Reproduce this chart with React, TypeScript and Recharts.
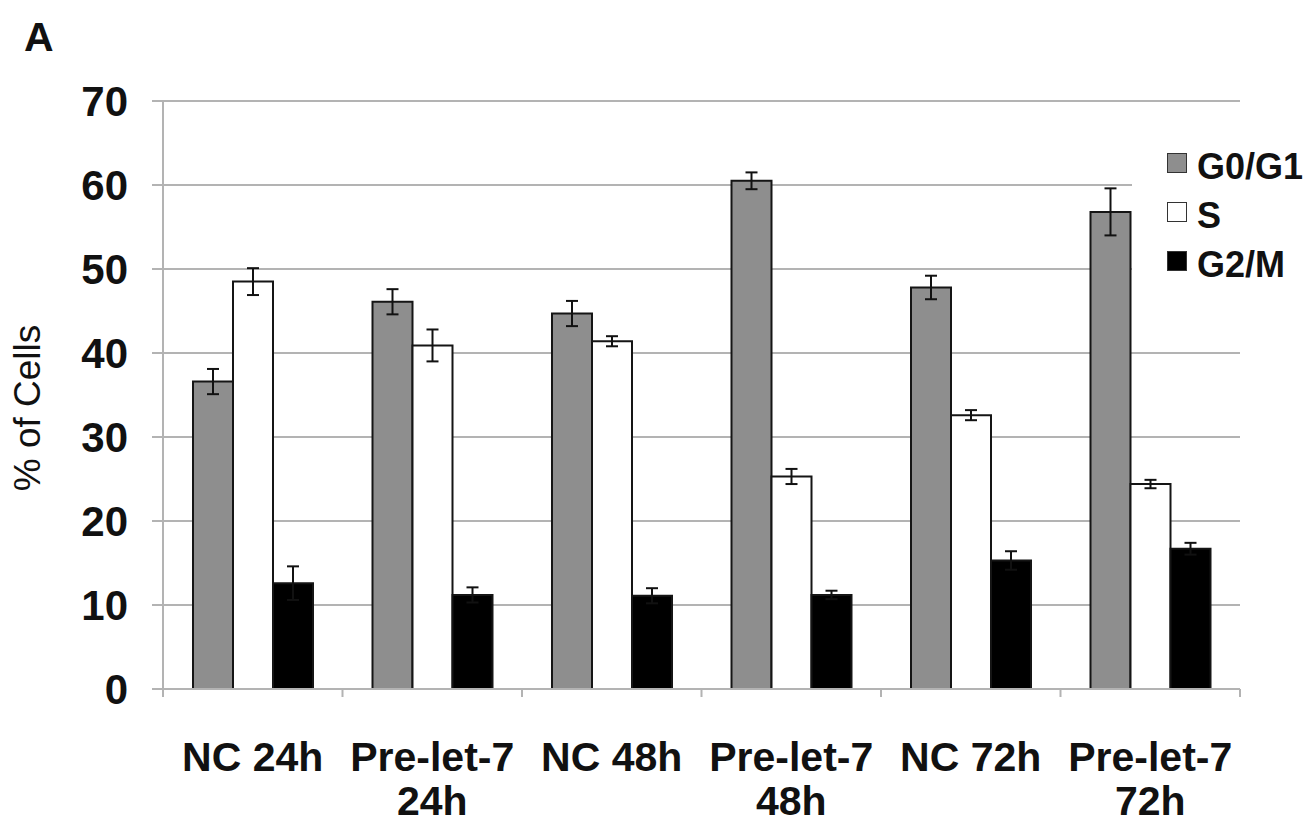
import React from 'react'
import { BarChart, Bar, ErrorBar, XAxis, YAxis, CartesianGrid, Legend } from 'recharts'

// ── Data ──────────────────────────────────────────────────────────────────────

const categories = ['NC 24h', 'Pre-let-7\n24h', 'NC 48h', 'Pre-let-7\n48h', 'NC 72h', 'Pre-let-7\n72h']

const g0g1 = [36.6, 46.1, 44.7, 60.5, 47.8, 56.8]
const g0g1Err = [1.5, 1.5, 1.5, 1.0, 1.4, 2.8]

const sPhase = [48.5, 40.9, 41.4, 25.3, 32.6, 24.4]
const sPhaseErr = [1.6, 1.9, 0.6, 0.9, 0.6, 0.5]

const g2m = [12.6, 11.2, 11.1, 11.2, 15.3, 16.7]
const g2mErr = [2.0, 0.9, 0.9, 0.5, 1.1, 0.7]

const yTicks = [0, 10, 20, 30, 40, 50, 60, 70]

const series = [
  { key: 'g0g1', err: 'g0g1Err', label: 'G0/G1', fill: '#8e8e8e' },
  { key: 's', err: 'sErr', label: 'S', fill: '#ffffff' },
  { key: 'g2m', err: 'g2mErr', label: 'G2/M', fill: '#000000' },
]

const data = categories.map((name, i) => ({
  name,
  g0g1: g0g1[i], g0g1Err: g0g1Err[i],
  s: sPhase[i], sErr: sPhaseErr[i],
  g2m: g2m[i], g2mErr: g2mErr[i],
}))

// ── Layout / style ────────────────────────────────────────────────────────────

const W = 1307
const H = 825
const MARGIN = { top: 101, right: 67, left: 0, bottom: 0 }
const Y_AXIS_W = 163
const X_AXIS_H = 136
const BAND = (W - MARGIN.right - MARGIN.left - Y_AXIS_W) / categories.length

const FONT = "'Liberation Sans', Arial, Helvetica, sans-serif"
const GRID = '#b3b3b3'
const OUTLINE = '#151515'

function CategoryTick(props: any) {
  const { x, y, payload, index } = props
  const lines = String(payload.value).split('\n')
  const half = BAND / 2
  return (
    <g>
      <line x1={x - half} x2={x - half} y1={y} y2={y + 8} stroke={GRID} strokeWidth={2} />
      {index === categories.length - 1 && (
        <line x1={x + half} x2={x + half} y1={y} y2={y + 8} stroke={GRID} strokeWidth={2} />
      )}
      <text x={x} y={y + 82} textAnchor="middle" fontSize={41} fontWeight="bold" fill="#111" fontFamily={FONT}>
        {lines.map((l, i) => (
          <tspan key={i} x={x} dy={i === 0 ? 0 : 44}>{l}</tspan>
        ))}
      </text>
    </g>
  )
}

function YLabel() {
  return (
    <text
      x={40}
      y={408}
      transform="rotate(-90 40 408)"
      textAnchor="middle"
      fontSize={37}
      fill="#111"
      fontFamily={FONT}
    >
      % of Cells
    </text>
  )
}

function LegendBox() {
  return (
    <div style={{ background: '#fff', width: 175, height: 158, paddingTop: 2, boxSizing: 'border-box', fontFamily: FONT }}>
      {series.map((s) => (
        <div key={s.key} style={{ display: 'flex', alignItems: 'center', height: 49, paddingLeft: 35 }}>
          <span
            style={{
              display: 'inline-block',
              width: 18,
              height: 18,
              background: s.fill,
              border: '1.5px solid #333',
              position: 'relative',
              top: -4,
              marginRight: 10,
            }}
          />
          <span style={{ fontSize: 36, fontWeight: 'bold', color: '#111', lineHeight: '49px' }}>{s.label}</span>
        </div>
      ))}
    </div>
  )
}

export default function App() {
  return (
    <div style={{ position: 'absolute', left: 0, top: 0, width: W, height: H, background: '#fff', fontFamily: FONT }}>
      <div style={{ position: 'absolute', left: 24, top: 17, fontSize: 41, lineHeight: '41px', fontWeight: 'bold', color: '#111' }}>
        A
      </div>
      <BarChart width={W} height={H} data={data} margin={MARGIN} barGap={0} barSize={40}>
        <CartesianGrid vertical={false} stroke={GRID} strokeWidth={2} />
        <XAxis
          dataKey="name"
          height={X_AXIS_H}
          axisLine={{ stroke: GRID, strokeWidth: 2 }}
          tickLine={false}
          tickSize={0}
          tickMargin={0}
          interval={0}
          tick={<CategoryTick />}
        />
        <YAxis
          width={Y_AXIS_W}
          domain={[0, 70]}
          ticks={yTicks}
          interval={0}
          axisLine={{ stroke: GRID, strokeWidth: 2 }}
          tickLine={{ stroke: GRID, strokeWidth: 2 }}
          tickSize={11}
          tickMargin={24}
          tick={{ fontSize: 42, fontWeight: 'bold', fill: '#111', fontFamily: FONT }}
          label={{ content: () => <YLabel /> }}
        />
        <Legend
          layout="vertical"
          align="center"
          verticalAlign="middle"
          content={() => <LegendBox />}
          wrapperStyle={{ position: 'absolute', left: 1132, top: 140, width: 175, height: 158 }}
        />
        {series.map((s) => (
          <Bar
            key={s.key}
            dataKey={s.key}
            name={s.label}
            fill={s.fill}
            stroke={OUTLINE}
            strokeWidth={2}
            isAnimationActive={false}
          >
            <ErrorBar dataKey={s.err} width={6} stroke="#111" strokeWidth={2} direction="y" isAnimationActive={false} />
          </Bar>
        ))}
      </BarChart>
    </div>
  )
}
